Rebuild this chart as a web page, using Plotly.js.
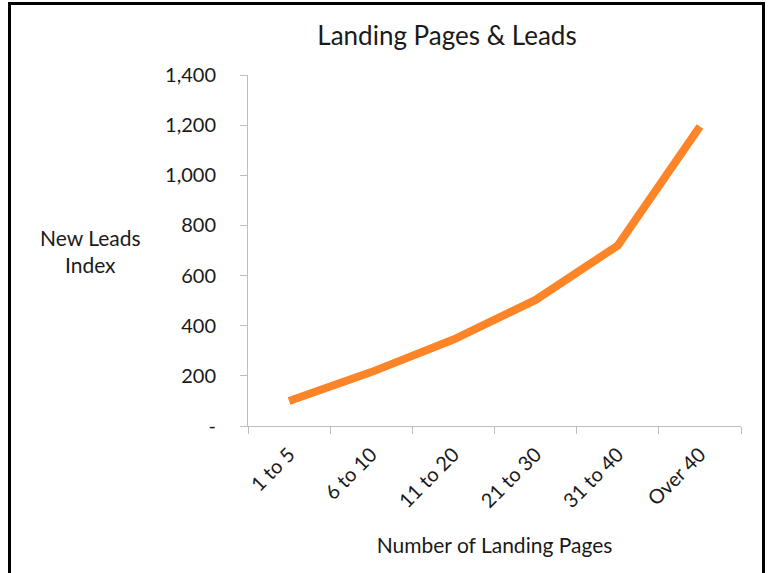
<!DOCTYPE html>
<html>
<head>
<meta charset="utf-8">
<script src="https://cdn.plot.ly/plotly-3.0.1.min.js"></script>
<style>
  html, body { margin: 0; padding: 0; background: #fff; }
  #wrap { position: relative; width: 768px; height: 573px; overflow: hidden; }
  #chart { position: absolute; left: 0; top: 0; width: 768px; height: 573px; }
  #frame { position: absolute; left: 8px; top: 2px; width: 751px; height: 600px; border: 3px solid #000; pointer-events: none; }
</style>
</head>
<body>
<div id="wrap">
  <div id="chart"></div>
  <div id="frame"></div>
</div>
<script>
const categories = ['1 to 5', '6 to 10', '11 to 20', '21 to 30', '31 to 40', 'Over 40'];
const leadsIndex = [100, 215, 345, 503, 720, 1195];
const yTickVals = [0, 200, 400, 600, 800, 1000, 1200, 1400];
const yTickText = ['-', '200', '400', '600', '800', '1,000', '1,200', '1,400'];

const FONT = 'Lato, "Open Sans", sans-serif';
const TXT = '#1a1a1a';

const trace = {
  x: categories,
  y: leadsIndex,
  type: 'scatter',
  mode: 'lines',
  line: { color: '#FD8427', width: 8 },
  hoverinfo: 'x+y'
};

const layout = {
  width: 768,
  height: 573,
  margin: { l: 248, r: 27, t: 75, b: 147 },
  paper_bgcolor: '#fff',
  plot_bgcolor: '#fff',
  showlegend: false,
  font: { family: FONT, color: TXT, size: 20 },
  title: {
    text: 'Landing Pages & Leads',
    font: { family: FONT, size: 26, color: TXT },
    x: 447 / 768, xref: 'container', xanchor: 'center',
    y: 1 - 36 / 573, yref: 'container', yanchor: 'middle'
  },
  xaxis: {
    type: 'category',
    tickangle: -45,
    showgrid: false,
    zeroline: false,
    showline: true,
    linecolor: '#BDBDBD',
    linewidth: 1,
    ticks: 'outside',
    tickson: 'boundaries',
    ticklen: 7,
    tickcolor: '#BDBDBD',
    ticklabelstandoff: 8,
    tickfont: { family: FONT, size: 20, color: TXT },
    title: { text: 'Number of Landing Pages', font: { family: FONT, size: 21, color: TXT }, standoff: 27 },
    range: [-0.5, 5.5],
    fixedrange: true
  },
  yaxis: {
    range: [0, 1400],
    tickvals: yTickVals,
    ticktext: yTickText,
    showgrid: false,
    zeroline: false,
    showline: true,
    linecolor: '#BDBDBD',
    linewidth: 1,
    ticks: 'outside',
    ticklen: 7,
    tickcolor: '#BDBDBD',
    ticklabelstandoff: 20,
    tickfont: { family: FONT, size: 20, color: TXT },
    fixedrange: true
  },
  annotations: [{
    text: 'New Leads<br>Index',
    xref: 'paper', yref: 'paper',
    x: (90 - 248) / 493, y: (426 - 251) / 351,
    xanchor: 'center', yanchor: 'middle',
    showarrow: false,
    align: 'center',
    font: { family: FONT, size: 21, color: TXT }
  }]
};

Plotly.newPlot('chart', [trace], layout, { displayModeBar: false, staticPlot: true });
</script>
</body>
</html>
